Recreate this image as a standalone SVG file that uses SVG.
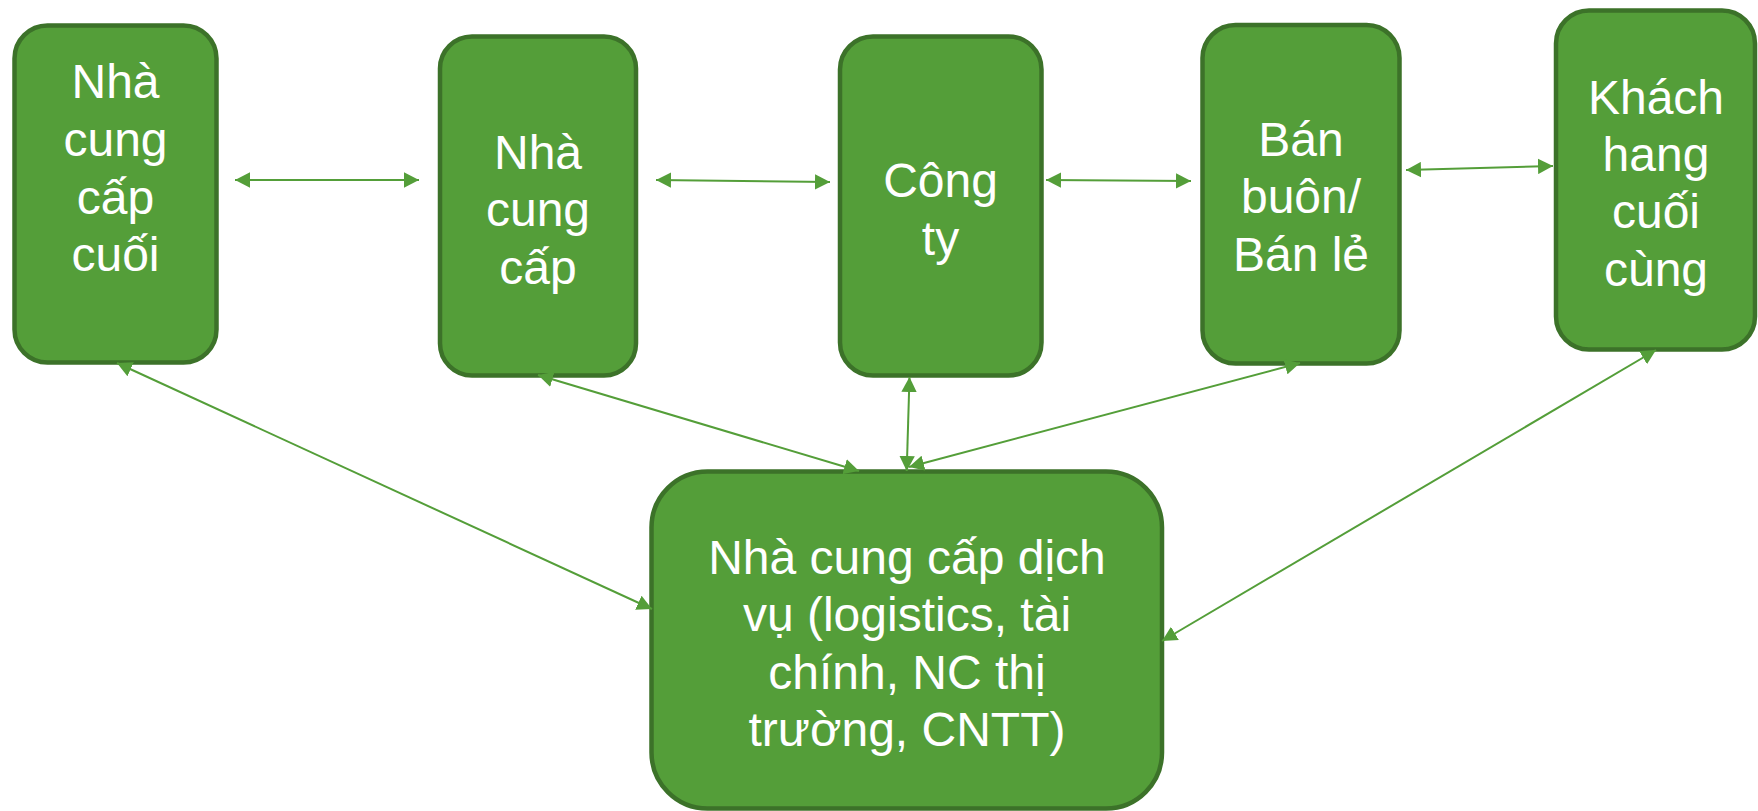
<svg xmlns="http://www.w3.org/2000/svg" width="1758" height="811" viewBox="0 0 1758 811">
  <style>
    .box { fill: #549E39; stroke: #3C7229; stroke-width: 4.5; }
    .lbl { fill: #FFFFFF; font-family: "Liberation Sans", Arial, sans-serif; font-size: 48px; text-anchor: middle; }
    .conn { stroke: #549E39; stroke-width: 2; fill: none; marker-start: url(#ah); marker-end: url(#ah); }
  </style>
  <defs>
    <marker id="ah" viewBox="0 0 15 16" refX="15" refY="8" markerWidth="15" markerHeight="16" markerUnits="userSpaceOnUse" orient="auto-start-reverse">
      <path d="M0,0.3 L15,8 L0,15.7 Z" fill="#549E39"/>
    </marker>
  </defs>
  <rect width="1758" height="811" fill="#FFFFFF"/>

  <g id="node-ncc-cuoi">
    <rect class="box" x="14.5" y="25.5" width="202" height="337" rx="33"/>
    <text class="lbl" x="115.5" y="98">Nhà</text>
    <text class="lbl" x="115.5" y="156">cung</text>
    <text class="lbl" x="115.5" y="213.5">cấp</text>
    <text class="lbl" x="115.5" y="271">cuối</text>
  </g>

  <g id="node-ncc">
    <rect class="box" x="440" y="36.5" width="196" height="339" rx="32"/>
    <text class="lbl" x="538" y="168.5">Nhà</text>
    <text class="lbl" x="538" y="226">cung</text>
    <text class="lbl" x="538" y="283.5">cấp</text>
  </g>

  <g id="node-congty">
    <rect class="box" x="840" y="36.5" width="201.5" height="339" rx="33"/>
    <text class="lbl" x="940.5" y="197">Công</text>
    <text class="lbl" x="940.5" y="254.5">ty</text>
  </g>

  <g id="node-banbuon">
    <rect class="box" x="1202.5" y="25" width="197" height="338.5" rx="33"/>
    <text class="lbl" x="1301" y="155.5">Bán</text>
    <text class="lbl" x="1301" y="213">buôn/</text>
    <text class="lbl" x="1301" y="270.5">Bán lẻ</text>
  </g>

  <g id="node-khachhang">
    <rect class="box" x="1556" y="10.5" width="199" height="339" rx="33"/>
    <text class="lbl" x="1656" y="113.5">Khách</text>
    <text class="lbl" x="1656" y="170.5">hang</text>
    <text class="lbl" x="1656" y="228">cuối</text>
    <text class="lbl" x="1656" y="285.5">cùng</text>
  </g>

  <g id="node-dichvu">
    <rect class="box" x="651.5" y="471.5" width="510.5" height="337" rx="56"/>
    <text class="lbl" x="907" y="574">Nhà cung cấp dịch</text>
    <text class="lbl" x="907" y="631">vụ (logistics, tài</text>
    <text class="lbl" x="907" y="688.5">chính, NC thị</text>
    <text class="lbl" x="907" y="746">trường, CNTT)</text>
  </g>

  <g id="connectors">
    <line class="conn" x1="235" y1="180" x2="419" y2="180"/>
    <line class="conn" x1="656" y1="180" x2="830" y2="182"/>
    <line class="conn" x1="1046" y1="180" x2="1191" y2="181"/>
    <line class="conn" x1="1406" y1="170" x2="1553" y2="166"/>
    <line class="conn" x1="117" y1="363" x2="652" y2="609"/>
    <line class="conn" x1="538" y1="375" x2="859" y2="471"/>
    <line class="conn" x1="909.5" y1="377" x2="906.7" y2="471"/>
    <line class="conn" x1="1300" y1="363" x2="909" y2="467"/>
    <line class="conn" x1="1656" y1="350" x2="1162" y2="641"/>
  </g>
</svg>
